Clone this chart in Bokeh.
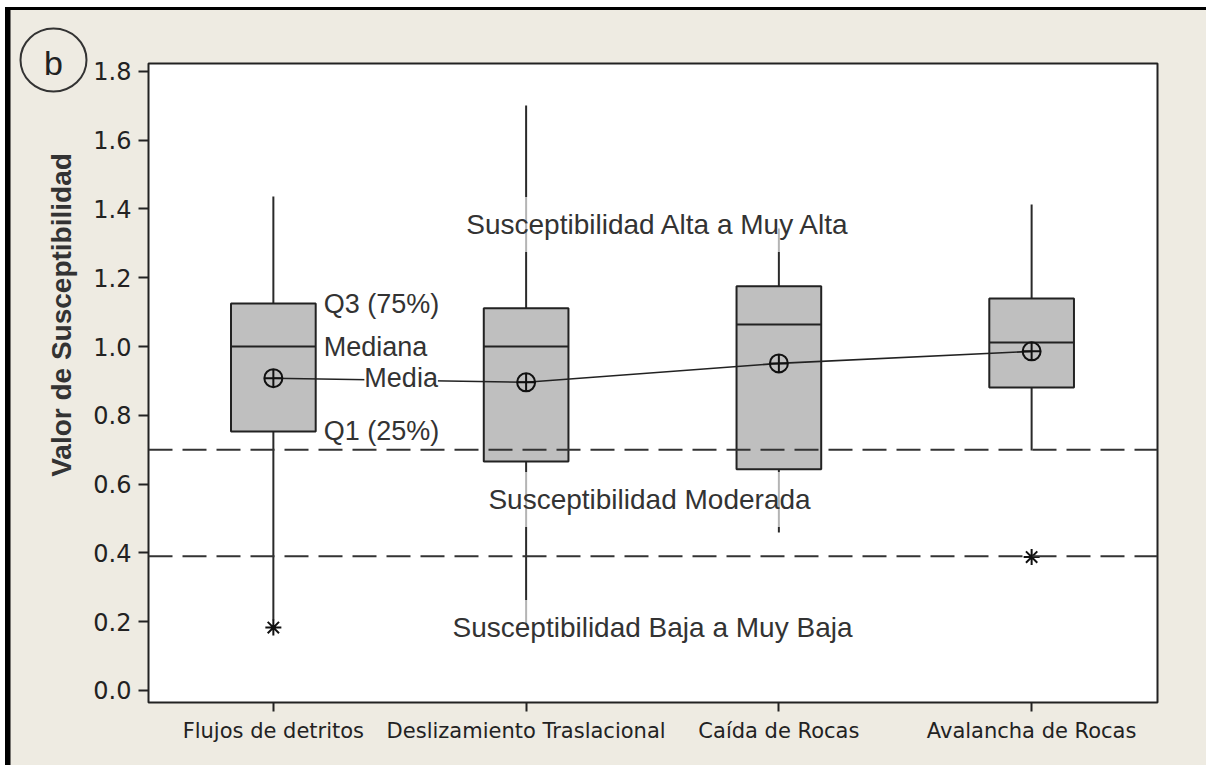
import math
from bokeh.plotting import figure
from bokeh.layouts import column, row
from bokeh.models import Range1d, FixedTicker, Label, Span, PrintfTickFormatter, Div
from bokeh.embed import file_html
from bokeh.resources import INLINE

# ---------------- data ----------------
categories = ["Flujos de detritos", "Deslizamiento Traslacional", "Caída de Rocas", "Avalancha de Rocas"]
x_pos = [1, 2, 3, 4]
q1 = [0.753, 0.666, 0.643, 0.881]
median = [1.000, 1.000, 1.064, 1.012]
q3 = [1.125, 1.111, 1.175, 1.140]
mean = [0.908, 0.896, 0.951, 0.986]
whisker_low = [0.204, 0.190, 0.459, 0.698]
whisker_high = [1.436, 1.701, 1.343, 1.413]
outlier_x = [1, 4]
outlier_val = [0.183, 0.388]
thresholds = [0.70, 0.39]
y_ticks = [0.0, 0.2, 0.4, 0.6, 0.8, 1.0, 1.2, 1.4, 1.6, 1.8]
zone_labels = ["Susceptibilidad Alta a Muy Alta", "Susceptibilidad Moderada", "Susceptibilidad Baja a Muy Baja"]
box_labels = ["Q3 (75%)", "Mediana", "Media", "Q1 (25%)"]
y_title = "Valor de Susceptibilidad"
panel_letter = "b"

# ---------------- layout (page px) ----------------
PAGE_W, PAGE_H = 1206, 765
TOP_H = 10          # strip holding the black top edge
LEFT_W = 90         # strip holding the panel letter and the y title
BEIGE = "#EEEBE2"
FL, FR, FT, FB = 147, 1157, 63, 702   # frame edges on the page
X0, X1 = 0.506, 4.498
Y0, Y1 = -0.035, 1.823

MW, MH = PAGE_W - LEFT_W, PAGE_H - TOP_H


def px2y(py):
    return Y0 + (FB - py) / (FB - FT) * (Y1 - Y0)


# ---- top strip (white margin + black edge) ----
top_svg = (
    f'<svg xmlns="http://www.w3.org/2000/svg" width="{PAGE_W}" height="{TOP_H}" style="display:block">'
    f'<rect x="0" y="0" width="{PAGE_W}" height="{TOP_H}" fill="white"/>'
    f'<rect x="5" y="5" width="{PAGE_W - 5}" height="{TOP_H - 5}" fill="black"/>'
    '</svg>'
)
top = Div(text=top_svg, width=PAGE_W, height=TOP_H, margin=0)

# ---- left strip (black edge, panel letter, y title) ----
ty = lambda py: py - TOP_H
left_svg = (
    f'<svg xmlns="http://www.w3.org/2000/svg" width="{LEFT_W + 2}" height="{MH}" style="display:block">'
    f'<rect x="0" y="0" width="{LEFT_W + 2}" height="{MH}" fill="{BEIGE}"/>'
    f'<rect x="0" y="0" width="5" height="{MH}" fill="white"/>'
    f'<rect x="5" y="0" width="5.5" height="{MH}" fill="black"/>'
    f'<ellipse cx="53.5" cy="{ty(60)}" rx="33" ry="31.5" fill="none" stroke="#333333" stroke-width="2"/>'
    f'<text x="53.5" y="{ty(75)}" font-family="DejaVu Sans" font-size="34" fill="#222222" '
    f'text-anchor="middle">{panel_letter}</text>'
    f'<text transform="translate(61,{ty(315)}) rotate(-90)" font-family="Liberation Sans" font-weight="bold" '
    f'font-size="28" fill="#333333" text-anchor="middle" dominant-baseline="central">{y_title}</text>'
    '</svg>'
)
left = Div(text=left_svg, width=LEFT_W, height=MH, margin=0,
           styles={"background-color": BEIGE, "overflow": "visible"})

# ---- main chart ----
p = figure(width=MW, height=MH, x_range=Range1d(X0, X1), y_range=Range1d(Y0, Y1),
           output_backend="svg", toolbar_location=None,
           min_border_left=FL - LEFT_W, min_border_right=MW - (FR - LEFT_W),
           min_border_top=FT - TOP_H, min_border_bottom=MH - (FB - TOP_H))
p.background_fill_color = "white"
p.border_fill_color = BEIGE
p.outline_line_color = "#222222"
p.outline_line_width = 2
p.xgrid.visible = False
p.ygrid.visible = False

p.yaxis.ticker = FixedTicker(ticks=y_ticks)
p.yaxis.formatter = PrintfTickFormatter(format="%.1f")
p.xaxis.ticker = FixedTicker(ticks=x_pos)
p.xaxis.major_label_overrides = {x: c for x, c in zip(x_pos, categories)}
for ax in (p.xaxis, p.yaxis):
    ax.axis_line_color = None
    ax.minor_tick_line_color = None
    ax.major_tick_in = 0
    ax.major_tick_line_width = 2
    ax.major_tick_line_color = "#222222"
    ax.major_label_text_font = "DejaVu Sans"
    ax.major_label_text_color = "#222222"
p.yaxis.major_tick_out = 10
p.yaxis.major_label_standoff = 7
p.yaxis.major_label_text_font_size = "24px"
p.xaxis.major_tick_out = 9
p.xaxis.major_label_standoff = 7
p.xaxis.major_label_text_font_size = "21px"

# boxes
bw = 0.335
xl = [x - bw / 2 for x in x_pos]
xr = [x + bw / 2 for x in x_pos]
p.segment(x0=x_pos, y0=q3, x1=x_pos, y1=whisker_high, line_color="#2a2a2a", line_width=2)
p.segment(x0=x_pos, y0=q1, x1=x_pos, y1=whisker_low, line_color="#2a2a2a", line_width=2)
p.vbar(x=x_pos, width=bw, bottom=q1, top=q3, fill_color="#BFBFBF", line_color="#222222", line_width=2)
p.segment(x0=xl, y0=median, x1=xr, y1=median, line_color="#222222", line_width=2)

# means
p.line(x_pos, mean, line_color="#222222", line_width=1.6)
p.scatter(x_pos, mean, marker="circle_cross", size=18, fill_color=None, line_color="#111111", line_width=2)

# outliers
p.scatter(outlier_x, outlier_val, marker="asterisk", size=16, line_color="#111111", line_width=2)

# threshold lines
for t in thresholds:
    p.add_layout(Span(location=t, dimension="width", line_color="#333333", line_width=2, line_dash="24 10"))

# labels on the first box
lab_kw = dict(text_font="Liberation Sans", text_font_size="27px", text_color="#333333", text_baseline="middle")
p.add_layout(Label(x=xr[0], y=q3[0], x_offset=8, text=box_labels[0], **lab_kw))
p.add_layout(Label(x=xr[0], y=median[0], x_offset=8, text=box_labels[1], **lab_kw))
p.add_layout(Label(x=x_pos[0], y=mean[0], x_offset=91, text=box_labels[2],
                   background_fill_color="white", background_fill_alpha=1.0, **lab_kw))
p.add_layout(Label(x=xr[0], y=q1[0], x_offset=8, text=box_labels[3], **lab_kw))

# zone labels
zone_kw = dict(text_font="Liberation Sans", text_font_size="28px", text_color="#333333",
               text_align="center", text_baseline="middle",
               background_fill_color="white", background_fill_alpha=0.65,
               padding=dict(left=6, right=6, top=12, bottom=12))
p.add_layout(Label(x=2.5, y=px2y(224), x_offset=6, text=zone_labels[0], **zone_kw))
p.add_layout(Label(x=2.5, y=px2y(499), x_offset=-3, text=zone_labels[1], **zone_kw))
p.add_layout(Label(x=2.5, y=px2y(627), x_offset=0, text=zone_labels[2], **zone_kw))

layout = column(top, row(left, p, spacing=0, styles={"background-color": BEIGE}), spacing=0)
open("out.html", "w").write(file_html(layout, INLINE))
